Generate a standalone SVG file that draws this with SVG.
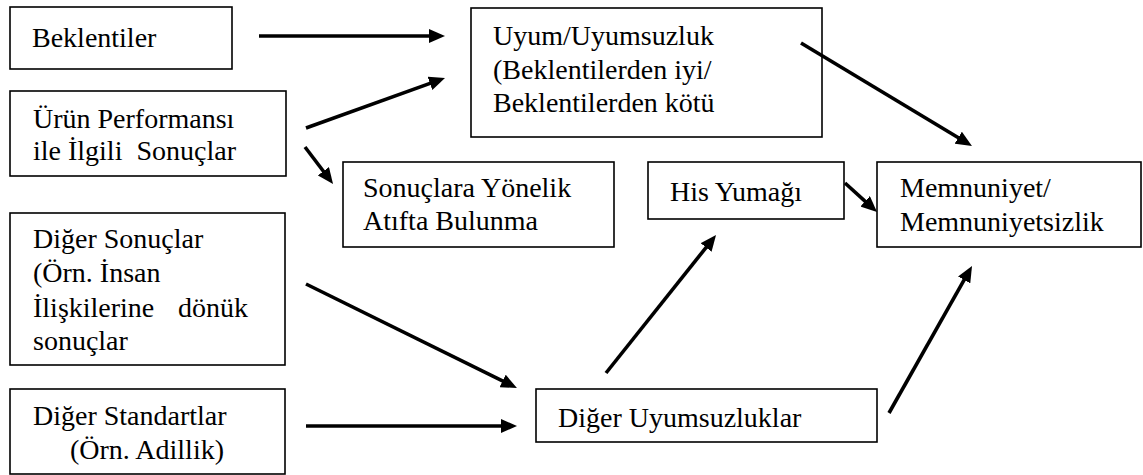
<svg xmlns="http://www.w3.org/2000/svg" width="1143" height="475" viewBox="0 0 1143 475">
  <style>
    .box { fill: #fff; stroke: #000; stroke-width: 1.6; }
    .lbl { font-family: "Liberation Serif", "Times New Roman", serif; font-size: 28px; fill: #000; white-space: pre; }
    .conn { stroke: #000; stroke-width: 3.6; fill: none; marker-end: url(#head); }
  </style>
  <defs>
    <!-- filled arrowhead; refX leaves 10px between line end and tip -->
    <marker id="head" markerUnits="userSpaceOnUse" markerWidth="16" markerHeight="14" viewBox="0 0 16 14" refX="6" refY="7" orient="auto">
      <path d="M0,0 L16,7 L0,14 z" fill="#000"/>
    </marker>
  </defs>

  <g id="beklentiler">
    <rect class="box" x="10" y="7" width="222" height="62"/>
    <text class="lbl" x="32" y="47">Beklentiler</text>
  </g>

  <g id="uyum">
    <rect class="box" x="471" y="8" width="351" height="129"/>
    <text class="lbl" x="493" y="45">Uyum/Uyumsuzluk</text>
    <text class="lbl" x="493" y="79">(Beklentilerden iyi/</text>
    <text class="lbl" x="493" y="112">Beklentilerden kötü</text>
  </g>

  <g id="urun-performansi">
    <rect class="box" x="10" y="91" width="276" height="85"/>
    <text class="lbl" x="33" y="128">Ürün Performansı</text>
    <text class="lbl" x="33" y="160">ile İlgili  Sonuçlar</text>
  </g>

  <g id="atif">
    <rect class="box" x="343" y="162" width="271" height="85"/>
    <text class="lbl" x="363" y="197">Sonuçlara Yönelik</text>
    <text class="lbl" x="363" y="230">Atıfta Bulunma</text>
  </g>

  <g id="his-yumagi">
    <rect class="box" x="648" y="162" width="196" height="57"/>
    <text class="lbl" x="670" y="201">His Yumağı</text>
  </g>

  <g id="memnuniyet">
    <rect class="box" x="877" y="162" width="264" height="85"/>
    <text class="lbl" x="900" y="197">Memnuniyet/</text>
    <text class="lbl" x="900" y="231">Memnuniyetsizlik</text>
  </g>

  <g id="diger-sonuclar">
    <rect class="box" x="10" y="213" width="275" height="152"/>
    <text class="lbl" x="33" y="248">Diğer Sonuçlar</text>
    <text class="lbl" x="33" y="282">(Örn. İnsan</text>
    <text class="lbl" x="33" y="317">İlişkilerine<tspan x="178">dönük</tspan></text>
    <text class="lbl" x="33" y="350">sonuçlar</text>
  </g>

  <g id="diger-standartlar">
    <rect class="box" x="10" y="389" width="275" height="85"/>
    <text class="lbl" x="33" y="425">Diğer Standartlar</text>
    <text class="lbl" x="70" y="459">(Örn. Adillik)</text>
  </g>

  <g id="diger-uyumsuzluklar">
    <rect class="box" x="536" y="389" width="341" height="53"/>
    <text class="lbl" x="558" y="427">Diğer Uyumsuzluklar</text>
  </g>

  <g id="connectors">
    <line class="conn" x1="259" y1="36" x2="435" y2="36"/>
    <line class="conn" x1="306" y1="128" x2="435.6" y2="81.4"/>
    <line class="conn" x1="305" y1="147" x2="327" y2="176"/>
    <line class="conn" x1="801" y1="43" x2="963.4" y2="140.8"/>
    <line class="conn" x1="845" y1="183" x2="869.6" y2="205.3"/>
    <line class="conn" x1="306" y1="284" x2="508" y2="383.6"/>
    <line class="conn" x1="306" y1="426" x2="507" y2="426"/>
    <line class="conn" x1="606" y1="373" x2="709.8" y2="242.8"/>
    <line class="conn" x1="889" y1="413" x2="967.1" y2="274.7"/>
  </g>
</svg>
